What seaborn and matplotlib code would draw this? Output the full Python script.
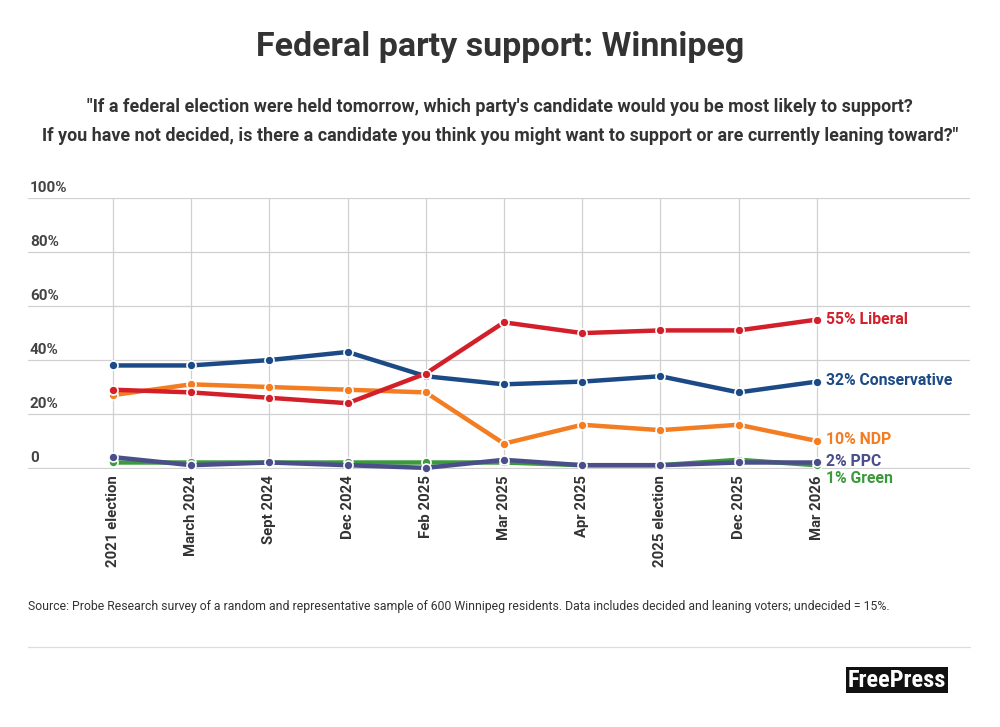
import pandas as pd
import matplotlib.pyplot as plt
import seaborn as sns
from matplotlib.transforms import blended_transform_factory

# Poll dates (x categories)
waves = ['2021 election', 'March 2024', 'Sept 2024', 'Dec 2024', 'Feb 2025',
         'Mar 2025', 'Apr 2025', '2025 election', 'Dec 2025', 'Mar 2026']

# Support by party, %
green = [2, 2, 2, 2, 2, 2, 1, 1, 3, 1]
ppc = [4, 1, 2, 1, 0, 3, 1, 1, 2, 2]
ndp = [27, 31, 30, 29, 28, 9, 16, 14, 16, 10]
conservative = [38, 38, 40, 43, 34, 31, 32, 34, 28, 32]
liberal = [29, 28, 26, 24, 35, 54, 50, 51, 51, 55]

parties = ['Green', 'PPC', 'NDP', 'Conservative', 'Liberal']
series = [green, ppc, ndp, conservative, liberal]
colors = {'Green': '#3b9a3c', 'PPC': '#4a4e8a', 'NDP': '#f37d22',
          'Conservative': '#1c4a86', 'Liberal': '#d31f2a'}

y_ticks = [0, 20, 40, 60, 80, 100]
y_tick_labels = ['0', '20%', '40%', '60%', '80%', '100%']

rows = []
for name, vals in zip(parties, series):
    for i, v in enumerate(vals):
        rows.append({'pos': i, 'wave': waves[i], 'party': name, 'support': v})
df = pd.DataFrame(rows)

sns.set_theme(style='white')
plt.rcParams['font.family'] = ['Roboto', 'DejaVu Sans']

fig = plt.figure(figsize=(10, 7.27), dpi=100)
ax = fig.add_axes([0.028, 0.3553, 0.942, 0.3719])

# draw each party so the stacking order matches (Liberal on top)
for name in parties:
    sns.lineplot(data=df[df['party'] == name], x='pos', y='support',
                 color=colors[name], linewidth=3.2, marker='o',
                 markersize=6.5, markeredgecolor='white', markeredgewidth=1.2,
                 ax=ax, legend=False, clip_on=False)

ax.set_xlim(-1.087, 10.96)
ax.set_ylim(-0.3, 100)
ax.set_xlabel('')
ax.set_ylabel('')
for s in ax.spines.values():
    s.set_visible(False)

ax.set_yticks(y_ticks)
ax.set_yticklabels([])
ax.tick_params(axis='both', length=0)
ax.grid(axis='y', color='#d0d0d0', linewidth=0.9)
ax.set_xticks(range(len(waves)))
ax.set_xticklabels([])
ax.grid(axis='x', color='#d0d0d0', linewidth=0.9)
ax.set_axisbelow(True)

# y labels sit above their gridline at the left edge
ytr = blended_transform_factory(ax.transAxes, ax.transData)
for v, lab in zip(y_ticks, y_tick_labels):
    ax.text(0.002, v + 1.2, lab, transform=ytr, ha='left', va='bottom',
            fontsize=11, fontweight='bold', color='#444444')

# x labels, rotated, under the axis
xtr = blended_transform_factory(ax.transData, ax.transAxes)
for i, lab in enumerate(waves):
    ax.text(i, -0.025, lab, transform=xtr, rotation=90, ha='center', va='top',
            fontsize=10.7, fontweight='bold', color='#333333')

# end-of-line labels
end_labels = {'Liberal': (liberal[-1], 55), 'Conservative': (conservative[-1], 32.5),
              'NDP': (ndp[-1], 10.5), 'PPC': (ppc[-1], 2.5), 'Green': (green[-1], -4)}
for name in ['Liberal', 'Conservative', 'NDP', 'PPC', 'Green']:
    val, ypos = end_labels[name]
    ax.text(len(waves) - 1 + 0.12, ypos, f'{val}% {name}', ha='left', va='center',
            fontsize=11.3, fontweight='bold', color=colors[name], clip_on=False)

fig.text(0.5, 0.935, 'Federal party support: Winnipeg', ha='center', va='center',
         fontsize=24.5, fontweight='bold', color='#333333')
fig.text(0.5, 0.833,
         '"If a federal election were held tomorrow, which party\'s candidate would you be most likely to support?\n'
         'If you have not decided, is there a candidate you think you might want to support or are currently leaning toward?"',
         ha='center', va='center', fontsize=12.9, fontweight='bold', color='#333333',
         linespacing=1.75)

fig.text(0.028, 0.166,
         'Source: Probe Research survey of a random and representative sample of 600 Winnipeg residents. '
         'Data includes decided and leaning voters; undecided = 15%.',
         ha='left', va='center', fontsize=8.8, color='#333333')

fig.add_artist(plt.Line2D([0.028, 0.97], [0.110, 0.110], transform=fig.transFigure,
                          color='#dddddd', linewidth=0.9))

# logo
fig.text(0.897, 0.0646, 'FreePress', ha='center', va='center', fontsize=17.5,
         fontweight='bold', color='white', family=['Roboto Condensed', 'Roboto', 'DejaVu Sans'],
         bbox=dict(boxstyle='square,pad=0.06', facecolor='#111111', edgecolor='none'))

fig.savefig('out.png', dpi=100, facecolor='white')
